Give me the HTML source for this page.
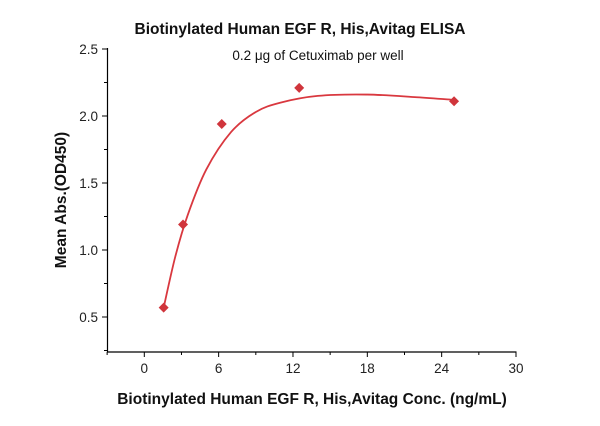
<!DOCTYPE html>
<html><head><meta charset="utf-8"><style>
body{margin:0;background:#fff;font-family:"Liberation Sans",sans-serif}
</style></head><body>
<svg width="600" height="421" xmlns="http://www.w3.org/2000/svg">
<g id="chart"></g>
</svg>
<script>
const xTicks=[0,6,12,18,24,30];
const yTicks=[0.5,1.0,1.5,2.0,2.5];
const ptX=[1.5625,3.125,6.25,12.5,25];
const ptY=[0.57,1.19,1.94,2.21,2.11];
const fitX=[1.5625,2.5,3.5,5,7,9,11,14,18,22,25];
const fitY=[0.57,0.95,1.26,1.6,1.88,2.03,2.1,2.15,2.16,2.14,2.12];
const NS="http://www.w3.org/2000/svg";
const g=document.getElementById('chart');
const sx=v=>144.3+(v)*(516-144.3)/30;
const sy=v=>317-(v-0.5)*(268/2);
function el(t,a,txt){const e=document.createElementNS(NS,t);for(const k in a)e.setAttribute(k,a[k]);if(txt!=null)e.textContent=txt;g.appendChild(e);return e;}
let e;
e=el('text',{x:300,y:34,'text-anchor':'middle','font-size':15.5,'font-weight':'bold',fill:'#111'},'Biotinylated Human EGF R, His,Avitag ELISA');

e=el('text',{x:318,y:60,'text-anchor':'middle','font-size':13.5,fill:'#111'},'0.2 μg of Cetuximab per well');

e=el('line',{x1:107.5,y1:48,x2:107.5,y2:352,stroke:'#000','stroke-width':1.2});

e=el('line',{x1:107,y1:352,x2:516.5,y2:352,stroke:'#000','stroke-width':1.2});

yTicks.forEach(v=>{
 e=el('line',{x1:102,x2:107,y1:sy(v),y2:sy(v),stroke:'#000'});
 
 e=el('line',{x1:104,x2:107,y1:sy(v-0.25),y2:sy(v-0.25),stroke:'#000'});
 
 e=el('text',{x:98,y:sy(v)+5,'text-anchor':'end','font-size':13.5,fill:'#222'},v.toFixed(1));
 
});
xTicks.forEach(v=>{
 e=el('line',{x1:sx(v),x2:sx(v),y1:352,y2:357,stroke:'#000'});
 
 e=el('line',{x1:sx(v-3),x2:sx(v-3),y1:352,y2:355,stroke:'#000'});
 
 e=el('text',{x:sx(v),y:373,'text-anchor':'middle','font-size':13.5,fill:'#222'},String(v));
 
});
e=el('text',{x:0,y:0,'text-anchor':'middle','font-size':15.5,'font-weight':'bold',fill:'#111',transform:'translate(66,200) rotate(-90)'},'Mean Abs.(OD450)');

e=el('text',{x:312,y:404,'text-anchor':'middle','font-size':15.5,'font-weight':'bold',fill:'#111'},'Biotinylated Human EGF R, His,Avitag Conc. (ng/mL)');

const P=fitX.map((x,i)=>[sx(x),sy(fitY[i])]);
let d='M'+P[0][0]+','+P[0][1];
for(let i=0;i<P.length-1;i++){
 const p0=P[i-1]||P[i],p1=P[i],p2=P[i+1],p3=P[i+2]||P[i+1];
 const c1=[p1[0]+(p2[0]-p0[0])/6,p1[1]+(p2[1]-p0[1])/6];
 const c2=[p2[0]-(p3[0]-p1[0])/6,p2[1]-(p3[1]-p1[1])/6];
 d+=` C${c1[0]},${c1[1]} ${c2[0]},${c2[1]} ${p2[0]},${p2[1]}`;
}
e=el('path',{d:d,fill:'none',stroke:'#d9383f','stroke-width':1.8});

ptX.forEach((x,i)=>{
 const cx=sx(x),cy=sy(ptY[i]);
 e=el('polygon',{points:`${cx},${cy-5} ${cx+5},${cy} ${cx},${cy+5} ${cx-5},${cy}`,fill:'#d0353c'});
 
});
</script>
</body></html>
